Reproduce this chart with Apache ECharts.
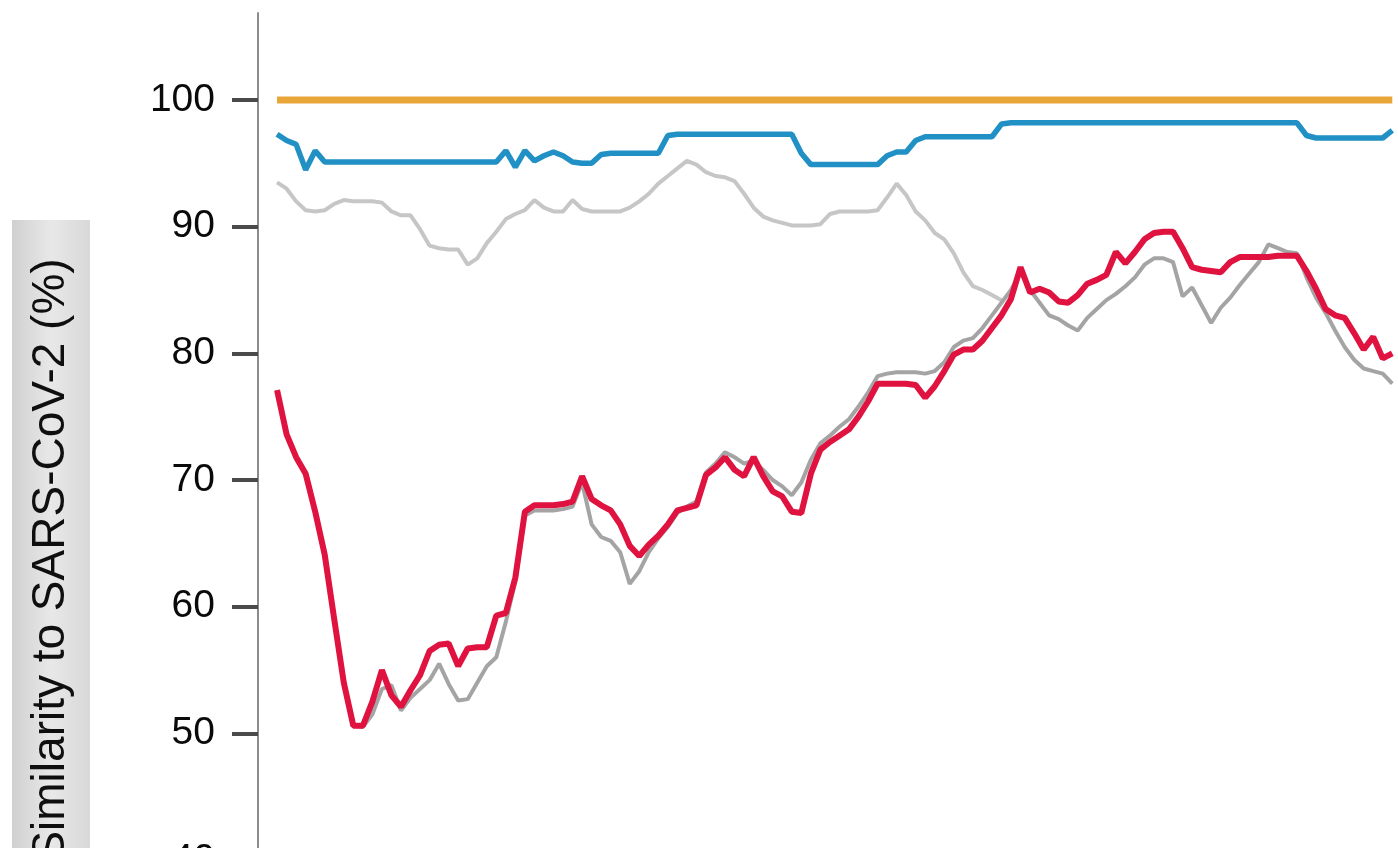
<!DOCTYPE html>
<html>
<head>
<meta charset="utf-8">
<script src="https://cdn.jsdelivr.net/npm/echarts@6/dist/echarts.min.js"></script>
<style>
    html, body { margin: 0; padding: 0; background: #fff; }
    .lineCharts { width: 1398px; height: 848px; }
</style>
</head>
<body>
<div class="lineCharts"></div>
<script>
// 数据
// window midpoints along the genome (nt)
let positions = [
    500, 750, 1000, 1250, 1500, 1750, 2000, 2250, 2500, 2750,
    3000, 3250, 3500, 3750, 4000, 4250, 4500, 4750, 5000, 5250,
    5500, 5750, 6000, 6250, 6500, 6750, 7000, 7250, 7500, 7750,
    8000, 8250, 8500, 8750, 9000, 9250, 9500, 9750, 10000, 10250,
    10500, 10750, 11000, 11250, 11500, 11750, 12000, 12250, 12500, 12750,
    13000, 13250, 13500, 13750, 14000, 14250, 14500, 14750, 15000, 15250,
    15500, 15750, 16000, 16250, 16500, 16750, 17000, 17250, 17500, 17750,
    18000, 18250, 18500, 18750, 19000, 19250, 19500, 19750, 20000, 20250,
    20500, 20750, 21000, 21250, 21500, 21750, 22000, 22250, 22500, 22750,
    23000, 23250, 23500, 23750, 24000, 24250, 24500, 24750, 25000, 25250,
    25500, 25750, 26000, 26250, 26500, 26750, 27000, 27250, 27500, 27750,
    28000, 28250, 28500, 28750, 29000, 29250, 29500, 29750
]
let yTicks = [40, 50, 60, 70, 80, 90, 100]

// orange (reference, flat)
let orangePositions = [500, 29750]
let orangeValues = [100, 100]

// blue
let blueValues = [
    97.3, 96.8, 96.5, 94.5, 96.0, 95.1, 95.1, 95.1, 95.1, 95.1,
    95.1, 95.1, 95.1, 95.1, 95.1, 95.1, 95.1, 95.1, 95.1, 95.1,
    95.1, 95.1, 95.1, 95.1, 96.0, 94.7, 96.0, 95.2, 95.6, 95.9,
    95.6, 95.1, 95.0, 95.0, 95.7, 95.8, 95.8, 95.8, 95.8, 95.8,
    95.8, 97.2, 97.3, 97.3, 97.3, 97.3, 97.3, 97.3, 97.3, 97.3,
    97.3, 97.3, 97.3, 97.3, 97.3, 95.8, 94.9, 94.9, 94.9, 94.9,
    94.9, 94.9, 94.9, 94.9, 95.6, 95.9, 95.9, 96.8, 97.1, 97.1,
    97.1, 97.1, 97.1, 97.1, 97.1, 97.1, 98.1, 98.2, 98.2, 98.2,
    98.2, 98.2, 98.2, 98.2, 98.2, 98.2, 98.2, 98.2, 98.2, 98.2,
    98.2, 98.2, 98.2, 98.2, 98.2, 98.2, 98.2, 98.2, 98.2, 98.2,
    98.2, 98.2, 98.2, 98.2, 98.2, 98.2, 98.2, 98.2, 97.2, 97.0,
    97.0, 97.0, 97.0, 97.0, 97.0, 97.0, 97.0, 97.6
]

// light grey (upper), merges with the lower grey near 19 kb
let lightGreyValues = [
    93.5, 93.0, 92.0, 91.3, 91.2, 91.3, 91.8, 92.1, 92.0, 92.0,
    92.0, 91.9, 91.2, 90.9, 90.9, 89.8, 88.5, 88.3, 88.2, 88.2,
    87.0, 87.5, 88.7, 89.6, 90.6, 91.0, 91.3, 92.1, 91.5, 91.2,
    91.2, 92.1, 91.4, 91.2, 91.2, 91.2, 91.2, 91.5, 92.0, 92.6,
    93.4, 94.0, 94.6, 95.2, 94.9, 94.3, 94.0, 93.9, 93.6, 92.6,
    91.5, 90.8, 90.5, 90.3, 90.1, 90.1, 90.1, 90.2, 91.0, 91.2,
    91.2, 91.2, 91.2, 91.3, 92.3, 93.4, 92.5, 91.2, 90.5, 89.5,
    89.0, 87.9, 86.4, 85.3, 85.0, 84.6, 84.2
]

// grey (lower, under the red)
let greyValues = [
    77.1, 73.6, 71.8, 70.5, 67.5, 64.1, 59.0, 54.0, 50.6, 50.5,
    51.5, 53.5, 53.8, 51.8, 52.8, 53.5, 54.2, 55.5, 53.9, 52.6,
    52.7, 54.0, 55.3, 56.0, 58.8, 62.0, 67.2, 67.6, 67.6, 67.6,
    67.7, 67.9, 69.8, 66.5, 65.5, 65.2, 64.3, 61.8, 62.8, 64.3,
    65.4, 66.3, 67.4, 67.9, 68.3, 70.6, 71.3, 72.2, 71.8, 71.3,
    71.5, 70.8, 70.0, 69.5, 68.8, 69.8, 71.6, 72.9, 73.5, 74.2,
    74.8, 75.8, 76.9, 78.2, 78.4, 78.5, 78.5, 78.5, 78.4, 78.6,
    79.3, 80.5, 81.0, 81.2, 82.0, 83.0, 84.0, 85.0, 86.4, 85.0,
    84.0, 83.0, 82.7, 82.2, 81.8, 82.8, 83.5, 84.2, 84.7, 85.3,
    86.0, 87.0, 87.5, 87.5, 87.2, 84.5, 85.2, 83.8, 82.4, 83.6,
    84.4, 85.4, 86.3, 87.2, 88.6, 88.3, 88.0, 87.9, 86.0, 84.4,
    83.2, 81.8, 80.5, 79.5, 78.8, 78.6, 78.4, 77.6
]

// red
let redValues = [
    77.1, 73.6, 71.8, 70.5, 67.5, 64.1, 59.0, 54.0, 50.6, 50.6,
    52.5, 55.0, 53.0, 52.1, 53.4, 54.6, 56.5, 57.0, 57.1, 55.3,
    56.7, 56.8, 56.8, 59.3, 59.5, 62.3, 67.5, 68.0, 68.0, 68.0,
    68.1, 68.3, 70.3, 68.5, 68.0, 67.6, 66.5, 64.8, 64.0, 64.9,
    65.6, 66.5, 67.6, 67.8, 68.0, 70.4, 71.0, 71.8, 70.8, 70.3,
    71.8, 70.3, 69.1, 68.7, 67.5, 67.4, 70.5, 72.4, 73.0, 73.5,
    74.0, 75.0, 76.2, 77.6, 77.6, 77.6, 77.6, 77.5, 76.5, 77.4,
    78.6, 79.9, 80.3, 80.3, 81.0, 82.0, 83.0, 84.3, 86.8, 84.8,
    85.1, 84.8, 84.1, 84.0, 84.6, 85.5, 85.8, 86.2, 88.0, 87.1,
    88.0, 89.0, 89.5, 89.6, 89.6, 88.3, 86.8, 86.6, 86.5, 86.4,
    87.2, 87.6, 87.6, 87.6, 87.6, 87.7, 87.7, 87.7, 86.5, 85.1,
    83.5, 83.0, 82.8, 81.6, 80.3, 81.3, 79.6, 80.0
]

function pairs(xs, ys) {
    return ys.map((v, i) => [xs[i], v])
}

// 折线图
let lineCharts = echarts.init(document.querySelector('.lineCharts'));
let lineOptions = {
    animation: false,
    backgroundColor: '#fff',
    grid: {
        left: 258,
        right: 0,
        top: 13,
        height: 847,
        outerBoundsMode: 'none'
    },
    xAxis: {
        type: 'value',
        min: 0,
        max: 29900,
        show: false
    },
    yAxis: {
        type: 'value',
        min: 40,
        max: 106.87,
        splitLine: { show: false },
        axisLine: {
            show: true,
            lineStyle: { color: '#8c8c8c', width: 2 }
        },
        axisTick: {
            show: true,
            customValues: yTicks,
            length: 26,
            lineStyle: { color: '#4a4a4a', width: 4 }
        },
        axisLabel: {
            customValues: yTicks,
            margin: 43,
            fontSize: 39,
            color: '#0a0a0a',
            fontFamily: 'Liberation Sans'
        }
    },
    graphic: [{
        type: 'rect',
        left: 12,
        top: 220,
        shape: { width: 78, height: 640 },
        style: {
            fill: new echarts.graphic.LinearGradient(0, 0, 1, 0, [
                { offset: 0, color: '#d0d0d0' },
                { offset: 0.5, color: '#e8e8e8' },
                { offset: 1, color: '#d8d8d8' }
            ])
        },
        z: 1
    }, {
        type: 'text',
        x: 51,
        y: 560,
        rotation: Math.PI / 2,
        style: {
            text: 'Similarity to SARS-CoV-2 (%)',
            font: '46px "Liberation Sans"',
            fill: '#0f0f0f',
            align: 'center',
            verticalAlign: 'middle'
        },
        z: 2
    }],
    series: [{
        name: 'SARS-CoV-2',
        type: 'line',
        data: pairs(orangePositions, orangeValues),
        showSymbol: false,
        lineStyle: { color: '#e9a638', width: 7 }
    }, {
        name: 'Pangolin-CoV (GD)',
        type: 'line',
        data: pairs(positions, lightGreyValues),
        showSymbol: false,
        lineStyle: { color: '#c6c6c6', width: 4 }
    }, {
        name: 'RaTG13',
        type: 'line',
        data: pairs(positions, blueValues),
        showSymbol: false,
        lineStyle: { color: '#2190c5', width: 5.5 }
    }, {
        name: 'Pangolin-CoV (GX)',
        type: 'line',
        data: pairs(positions, greyValues),
        showSymbol: false,
        lineStyle: { color: '#a4a4a4', width: 4 }
    }, {
        name: 'SARS-CoV',
        type: 'line',
        data: pairs(positions, redValues),
        showSymbol: false,
        lineStyle: { color: '#df1240', width: 6 }
    }]
}
lineCharts.setOption(lineOptions)
</script>
</body>
</html>
